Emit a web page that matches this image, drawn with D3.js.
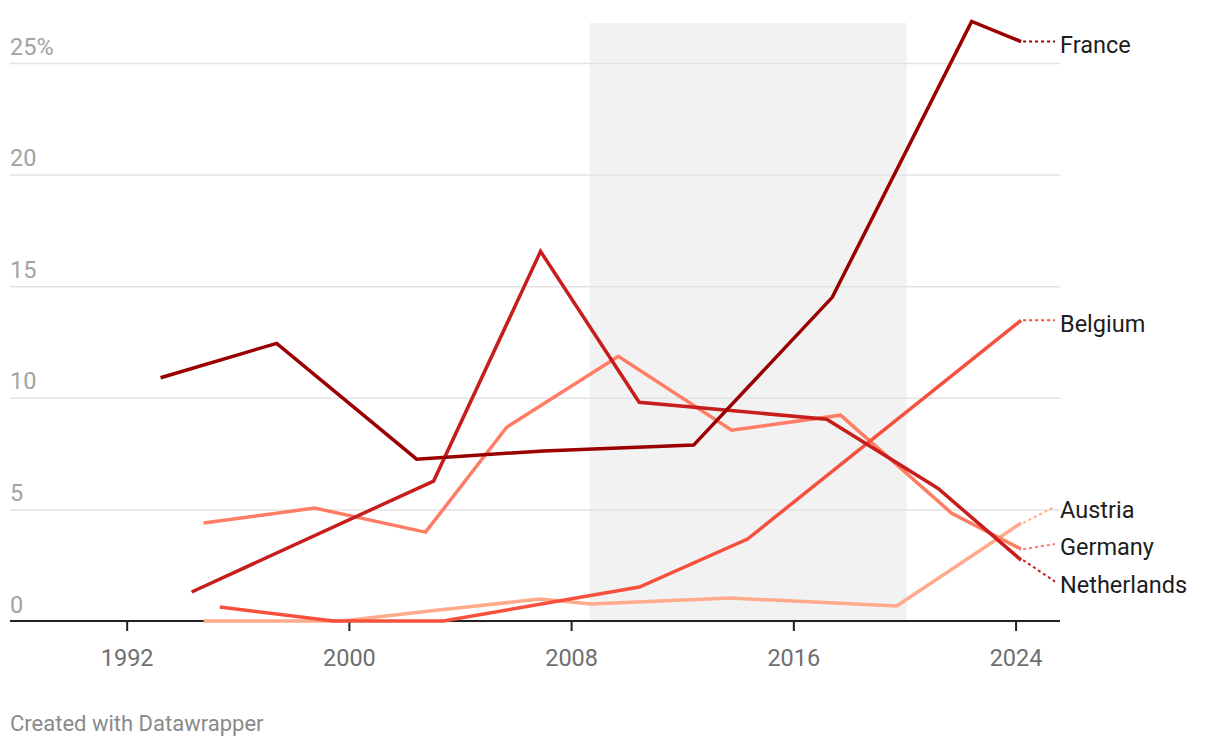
<!DOCTYPE html>
<html>
<head>
<meta charset="utf-8">
<script src="https://d3js.org/d3.v7.min.js"></script>
<style>
  body { margin: 0; background: #fff; font-family: Roboto, "Noto Sans", sans-serif; }
  svg text { font-family: Roboto, "Noto Sans", sans-serif; }
</style>
</head>
<body>
<div id="chart"></div>
<script>
// series, decimal year of each election and vote share in %
const franceYears = [1993.22, 1997.4, 2002.44, 2007.0, 2012.41, 2017.4, 2022.42, 2024.2];
const franceShare = [10.9, 12.44, 7.25, 7.62, 7.88, 14.5, 26.86, 25.96];

const netherlandsYears = [1994.34, 2003.05, 2006.9, 2010.45, 2017.2, 2021.2, 2024.2];
const netherlandsShare = [1.3, 6.27, 16.56, 9.8, 9.04, 5.95, 2.73];

const germanyYears = [1994.77, 1998.77, 2002.76, 2005.68, 2009.7, 2013.78, 2017.7, 2021.7, 2024.2];
const germanyShare = [4.39, 5.06, 3.98, 8.68, 11.86, 8.55, 9.22, 4.83, 3.22];

const belgiumYears = [1995.35, 1999.45, 2003.4, 2010.46, 2014.35, 2024.2];
const belgiumShare = [0.63, 0, 0, 1.52, 3.67, 13.47];

const austriaYears = [1994.77, 1999.75, 2002.9, 2006.9, 2008.72, 2013.72, 2019.72, 2024.2];
const austriaShare = [0, 0, 0.45, 0.98, 0.76, 1.03, 0.67, 4.39];

const xTicks = [1992, 2000, 2008, 2016, 2024];
const yTicks = [0, 5, 10, 15, 20, 25];
const shadedPeriod = [2008.67, 2020.08];

const countries = ['Austria', 'Germany', 'Belgium', 'Netherlands', 'France'];
const colors = {
  France: '#9a0000',
  Netherlands: '#c71e1d',
  Belgium: '#f7503d',
  Germany: '#ff7d64',
  Austria: '#ffaa8a',
};
const seriesData = {
  France: [franceYears, franceShare],
  Netherlands: [netherlandsYears, netherlandsShare],
  Germany: [germanyYears, germanyShare],
  Belgium: [belgiumYears, belgiumShare],
  Austria: [austriaYears, austriaShare],
};

const width = 1220;
const height = 748;
const left = 10;
const right = 1060;

const svg = d3.select('#chart').append('svg')
  .attr('width', width)
  .attr('height', height);

const x = d3.scaleLinear().domain([1987.8, 2025.6]).range([left, right]);
const y = d3.scaleLinear().domain([0, 25]).range([621, 63]);

// shaded period
svg.append('rect')
  .attr('x', x(shadedPeriod[0]))
  .attr('y', y(26.8))
  .attr('width', x(shadedPeriod[1]) - x(shadedPeriod[0]))
  .attr('height', y(0) - y(26.8))
  .attr('fill', '#f2f2f2');

// y grid + labels
const yAxis = svg.append('g')
  .attr('transform', `translate(${left},0)`)
  .call(d3.axisRight(y).tickValues(yTicks).tickSize(right - left)
    .tickFormat((d) => d === 25 ? '25%' : d));
yAxis.select('.domain').remove();
yAxis.selectAll('.tick line').attr('stroke', '#e3e3e3').attr('stroke-width', 1.5);
yAxis.selectAll('.tick text')
  .attr('x', 0)
  .attr('dy', -9)
  .attr('text-anchor', 'start')
  .attr('fill', '#a3a3a3')
  .attr('font-size', 23.5);

// x axis
const xAxis = svg.append('g')
  .attr('transform', `translate(0,${y(0)})`)
  .call(d3.axisBottom(x).tickValues(xTicks).tickSize(10).tickFormat(d3.format('d')));
xAxis.select('.domain').remove();
xAxis.selectAll('.tick line').attr('stroke', '#222').attr('stroke-width', 2);
xAxis.selectAll('.tick text')
  .attr('y', 28)
  .attr('dy', '0.71em')
  .attr('fill', '#6f6f6f')
  .attr('font-size', 23.5);
svg.append('line')
  .attr('x1', left).attr('x2', right)
  .attr('y1', y(0)).attr('y2', y(0))
  .attr('stroke', '#222').attr('stroke-width', 2);

// lines
const line = d3.line().x((d) => x(d[0])).y((d) => y(d[1]));
countries.forEach((c) => {
  const [yrs, vals] = seriesData[c];
  const pts = yrs.map((yr, i) => [yr, vals[i]]);
  svg.append('path')
    .datum(pts)
    .attr('fill', 'none')
    .attr('stroke', colors[c])
    .attr('stroke-width', 3.5)
    .attr('stroke-linejoin', 'miter')
    .attr('d', line);
});

// labels, pushed apart where they would overlap
const labels = countries.map((c) => {
  const [yrs, vals] = seriesData[c];
  const n = yrs.length - 1;
  return { name: c, x0: x(yrs[n]), y0: y(vals[n]), ly: y(vals[n]) + 3 };
}).sort((a, b) => a.ly - b.ly);

const gap = 37.5;
let groups = labels.map((l) => ({ items: [l], mid: l.ly }));
let merged = true;
while (merged) {
  merged = false;
  for (let i = 0; i < groups.length - 1; i++) {
    const a = groups[i], b = groups[i + 1];
    const aBottom = a.mid + (a.items.length - 1) * gap / 2;
    const bTop = b.mid - (b.items.length - 1) * gap / 2;
    if (bTop - aBottom < gap) {
      const items = a.items.concat(b.items);
      const mid = d3.mean(items, (d) => d.ly);
      groups.splice(i, 2, { items, mid });
      merged = true;
      break;
    }
  }
}
groups.forEach((g) => {
  g.items.forEach((l, i) => {
    l.pos = g.mid + (i - (g.items.length - 1) / 2) * gap;
  });
});

labels.forEach((l) => {
  svg.append('line')
    .attr('x1', l.x0 + 2).attr('y1', l.y0)
    .attr('x2', 1055).attr('y2', l.pos - 3)
    .attr('stroke', colors[l.name])
    .attr('stroke-width', 2)
    .attr('stroke-dasharray', '3,3');
  svg.append('text')
    .attr('x', 1060)
    .attr('y', l.pos)
    .attr('dy', '0.35em')
    .attr('fill', '#1d1d1d')
    .attr('font-size', 23.5)
    .text(l.name);
});

svg.append('text')
  .attr('x', 10)
  .attr('y', 731)
  .attr('fill', '#8a8a8a')
  .attr('font-size', 22)
  .text('Created with Datawrapper');
</script>
</body>
</html>
